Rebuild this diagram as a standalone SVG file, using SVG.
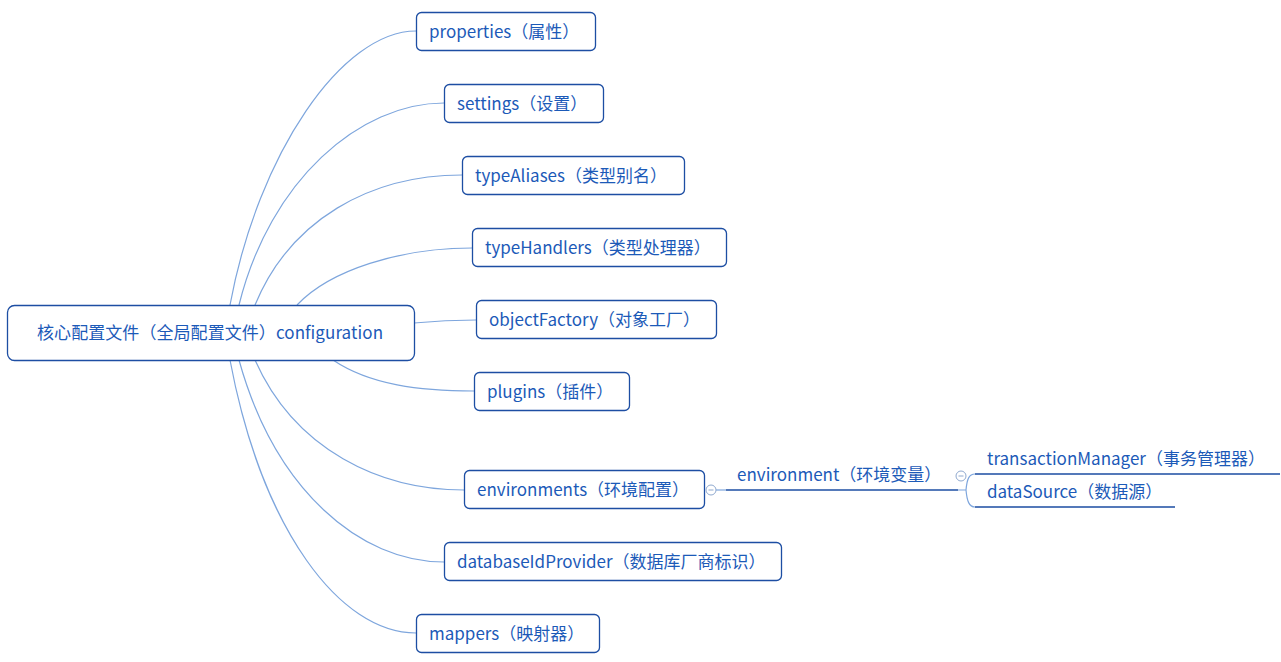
<svg xmlns="http://www.w3.org/2000/svg" width="1281" height="662" viewBox="0 0 1281 662">
<style>
.box{fill:#fff;stroke:#1d4ea3;stroke-width:1.3}
.t{font-family:"Noto Sans CJK SC","Microsoft YaHei",sans-serif;font-size:17px;fill:#1c5ab8}
.c{fill:none;stroke:#7ea6dd;stroke-width:1.2}
.d{fill:none;stroke:#1d4ea3;stroke-width:1.3}
.col{fill:#fff;stroke:#8fa9cf;stroke-width:1}
</style>
<rect width="1281" height="662" fill="#fff"/>
<g id="connectors">
<path class="c" d="M230,305 C258,154 342,31 416,31"/>
<path class="c" d="M239,305 C270,180 360,103 444,103"/>
<path class="c" d="M255,305 C290,220 370,175 462,175"/>
<path class="c" d="M297,305 C330,270 400,248 472,248"/>
<path class="c" d="M414,323 C435,321 450,320 476,320"/>
<path class="c" d="M333,360 C370,385 420,391 474,391"/>
<path class="c" d="M255,360 C295,450 380,490 464,490"/>
<path class="c" d="M239,360 C275,490 360,562 444,562"/>
<path class="c" d="M230,360 C262,530 340,633 416,633"/>
<path class="c" d="M716,490 L726,490"/>
<path class="d" d="M726,490 L958,490"/>
<path class="c" d="M958,490 L966,490 M966,490 C967,479 969,474 975,474 M966,490 C967,501 969,507 975,507"/>
<path class="d" d="M975,474 L1280,474 M975,507 L1175,507"/>
</g>
<g id="root">
<rect class="box" x="7.5" y="305.5" width="407" height="55" rx="7"/>
<text class="t" x="37" y="339" textLength="346">核心配置文件（全局配置文件）configuration</text>
</g>
<g id="properties">
<rect class="box" x="416.5" y="12.5" width="179" height="38" rx="5"/>
<text class="t" x="429" y="38">properties（属性）</text>
</g>
<g id="settings">
<rect class="box" x="444.5" y="84.5" width="159" height="38" rx="5"/>
<text class="t" x="457" y="110">settings（设置）</text>
</g>
<g id="typeAliases">
<rect class="box" x="462.5" y="156.5" width="222" height="38" rx="5"/>
<text class="t" x="475" y="182">typeAliases（类型别名）</text>
</g>
<g id="typeHandlers">
<rect class="box" x="472.5" y="228.5" width="254" height="38" rx="5"/>
<text class="t" x="485" y="254">typeHandlers（类型处理器）</text>
</g>
<g id="objectFactory">
<rect class="box" x="476.5" y="300.5" width="240" height="38" rx="5"/>
<text class="t" x="489" y="326">objectFactory（对象工厂）</text>
</g>
<g id="plugins">
<rect class="box" x="474.5" y="372.5" width="155" height="38" rx="5"/>
<text class="t" x="487" y="398">plugins（插件）</text>
</g>
<g id="environments">
<rect class="box" x="464.5" y="470.5" width="240" height="38" rx="5"/>
<text class="t" x="477" y="496">environments（环境配置）</text>
<circle class="col" cx="711" cy="490" r="5"/>
<path d="M708.5,490 H713.5" stroke="#8fa9cf" stroke-width="1"/>
</g>
<g id="environment">
<text class="t" x="737" y="481">environment（环境变量）</text>
<circle class="col" cx="961" cy="476" r="5"/>
<path d="M958.5,476 H963.5" stroke="#8fa9cf" stroke-width="1"/>
</g>
<g id="transactionManager">
<text class="t" x="987" y="465">transactionManager（事务管理器）</text>
</g>
<g id="dataSource">
<text class="t" x="987" y="498">dataSource（数据源）</text>
</g>
<g id="databaseIdProvider">
<rect class="box" x="444.5" y="542.5" width="337" height="38" rx="5"/>
<text class="t" x="457" y="568">databaseIdProvider（数据库厂商标识）</text>
</g>
<g id="mappers">
<rect class="box" x="416.5" y="614.5" width="183" height="38" rx="5"/>
<text class="t" x="429" y="640">mappers（映射器）</text>
</g>
</svg>
